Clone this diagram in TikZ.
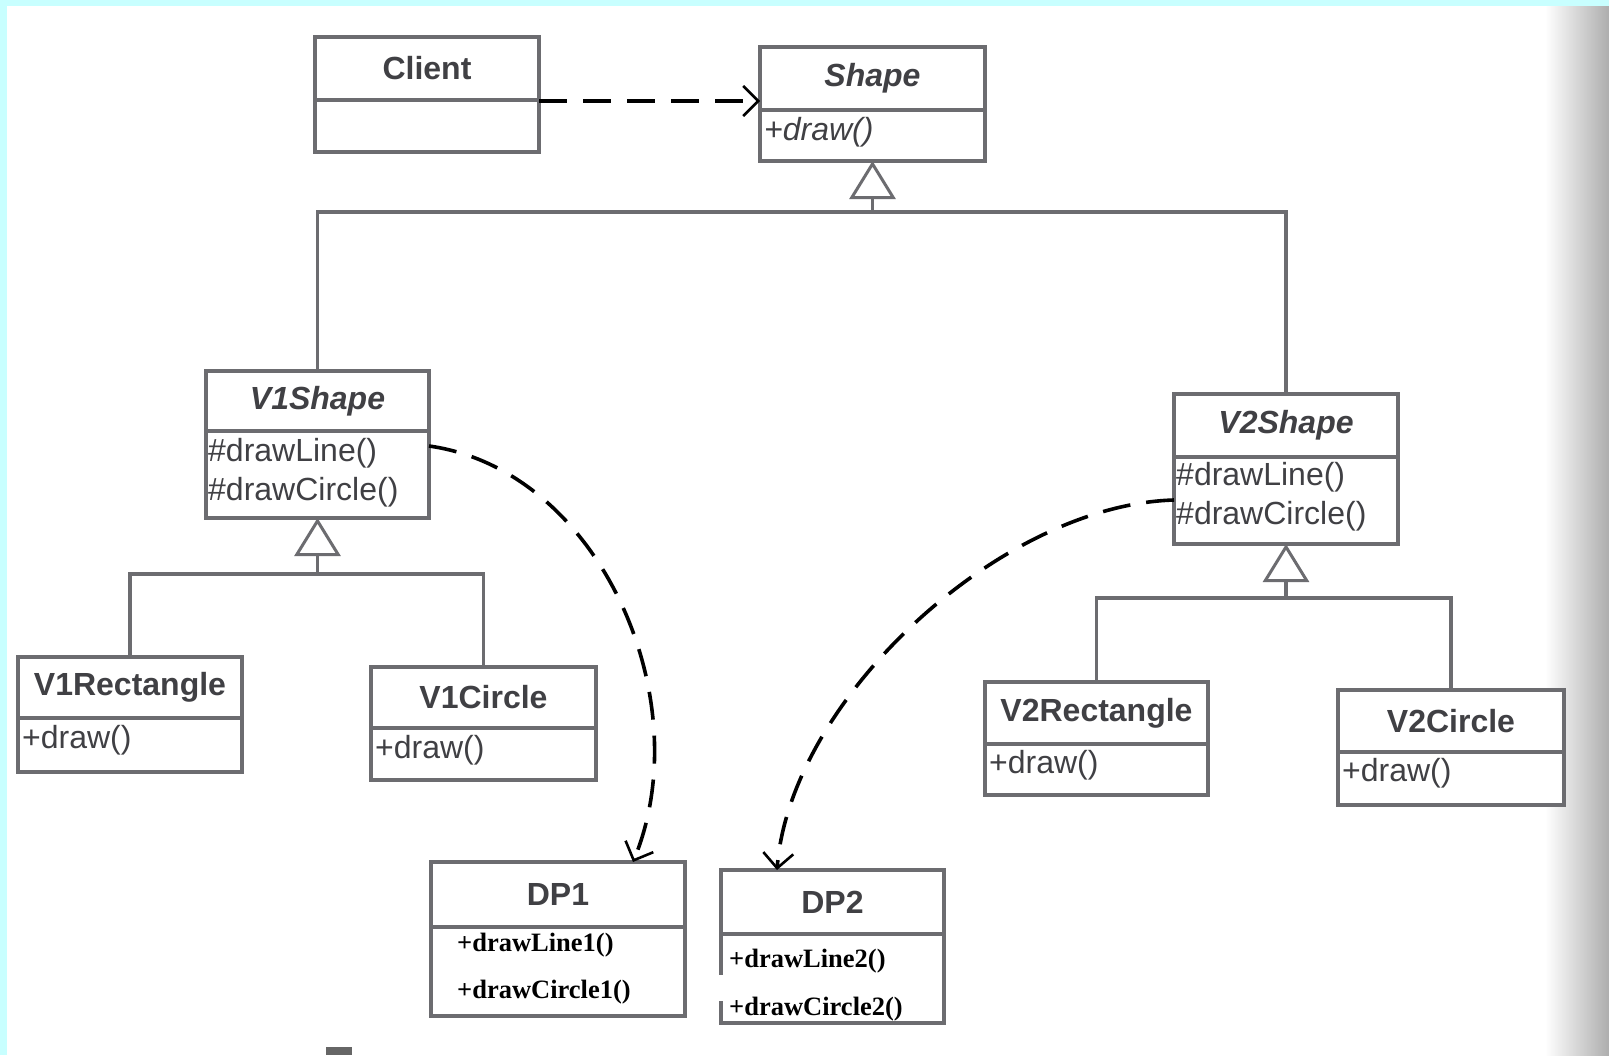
\documentclass[tikz,border=0pt]{standalone}
\usepackage{fontspec}
\setmainfont{Liberation Sans}
\newfontfamily\serifbold{Liberation Serif}
\usetikzlibrary{arrows.meta}

\definecolor{boxgray}{RGB}{108,108,112}
\definecolor{textgray}{RGB}{64,64,68}
\definecolor{edgecyan}{RGB}{200,255,255}

% one UML class: name, x1, y1, x2, y2, y of the divider, title
\newcommand\umlclass[7]{%
  \node[classbox, minimum width={#4-#2}, minimum height={#5-#3}] (#1) at (#2,#3) {};
  \draw[tree] (#2,#6) -- (#4,#6);
  \node[title] (#1-title) at ({(#2+#4)/2},{(#3+#6)/2}) {#7};
}

\begin{document}
\begin{tikzpicture}[x=1pt,y=-1pt,
  classbox/.style={draw=boxgray, line width=3.2pt, fill=white, inner sep=0pt, outer sep=0pt, anchor=north west},
  title/.style={font=\fontsize{32}{32}\selectfont\bfseries, text=textgray, inner sep=0pt},
  member/.style={font=\fontsize{32}{32}\selectfont, text=textgray, anchor=west, inner sep=0pt},
  dpmember/.style={font=\serifbold\fontsize{26.5}{26.5}\selectfont\bfseries, text=black, anchor=west, inner sep=0pt},
  tree/.style={draw=boxgray, line width=3.2pt},
  gen/.style={tree, -{Triangle[open, length=38pt, width=46pt, line width=3pt, fill=white]}},
  depend/.style={draw=black, line width=3.6pt, dash pattern=on 28pt off 16pt,
    -{Straight Barb[length=15pt, width=30pt, line width=2.6pt]}}
]
% page with its cyan edge and the shaded right margin
\useasboundingbox (0,0) rectangle (1609,1055);
\fill[edgecyan] (0,0) rectangle (1609,1055);
\fill[white] (7,6) rectangle (1609,1055);
\shade[left color=white, right color=black!32] (1545,6) rectangle (1609,1055);

% classes
\umlclass{client}{315}{37}{539}{152}{100}{Client}
\umlclass{shape}{760}{47}{985}{161}{110}{\itshape Shape}
\node[member] (shape-m1) at (764,132) {\itshape +draw()};

\umlclass{v1shape}{206}{371}{429}{518}{431}{\itshape V1Shape}
\node[member] (v1shape-m1) at (208,453) {\#drawLine()};
\node[member] (v1shape-m2) at (208,492) {\#drawCircle()};

\umlclass{v2shape}{1174}{394}{1398}{544}{457}{\itshape V2Shape}
\node[member] (v2shape-m1) at (1176,477) {\#drawLine()};
\node[member] (v2shape-m2) at (1176,516) {\#drawCircle()};

\umlclass{v1rect}{18}{657}{242}{772}{718}{V1Rectangle}
\node[member] (v1rect-m1) at (22,740) {+draw()};

\umlclass{v1circ}{371}{667}{596}{780}{728}{V1Circle}
\node[member] (v1circ-m1) at (375,750) {+draw()};

\umlclass{v2rect}{985}{682}{1208}{795}{744}{V2Rectangle}
\node[member] (v2rect-m1) at (989,765) {+draw()};

\umlclass{v2circ}{1338}{690}{1564}{805}{752}{V2Circle}
\node[member] (v2circ-m1) at (1342,773) {+draw()};

\umlclass{dp1}{431}{862}{685}{1016}{927}{DP1}
\node[dpmember] (dp1-m1) at (457,945) {+drawLine1()};
\node[dpmember] (dp1-m2) at (457,992) {+drawCircle1()};

\umlclass{dp2}{721}{870}{944}{1023}{934}{DP2}
\fill[white] (716,975) rectangle (726,1001);
\node[dpmember] (dp2-m1) at (729,961) {+drawLine2()};
\node[dpmember] (dp2-m2) at (729,1009) {+drawCircle2()};

% generalisation trees
\coordinate (busA) at (0,212);
\coordinate (busB) at (0,574);
\coordinate (busC) at (0,598);
\draw[tree] (v1shape.north) |- (v2shape.north |- busA) -- (v2shape.north);
\draw[gen] (shape.south |- busA) -- (shape.south);
\draw[tree] (v1rect.north) |- (v1circ.north |- busB) -- (v1circ.north);
\draw[gen] (v1shape.south |- busB) -- (v1shape.south);
\draw[tree] (v2rect.north) |- (v2circ.north |- busC) -- (v2circ.north);
\draw[gen] (v2shape.south |- busC) -- (v2shape.south);

% dependencies
\coordinate (cs) at (0,101);
\coordinate (s1) at (0,446);
\coordinate (e1) at (633,0);
\coordinate (s2) at (0,500);
\coordinate (e2) at (777,0);
\draw[depend] (client.east |- cs) -- (shape.west |- cs);
\draw[depend] (v1shape.east |- s1) .. controls (600,470) and (700,700) .. (e1 |- dp1.north);
\draw[depend] (v2shape.west |- s2) .. controls (1000,505) and (790,700) .. (e2 |- dp2.north);

% scrap of print at the lower edge
\fill[black!60] (326,1047) rectangle (352,1055);
\end{tikzpicture}
\end{document}
